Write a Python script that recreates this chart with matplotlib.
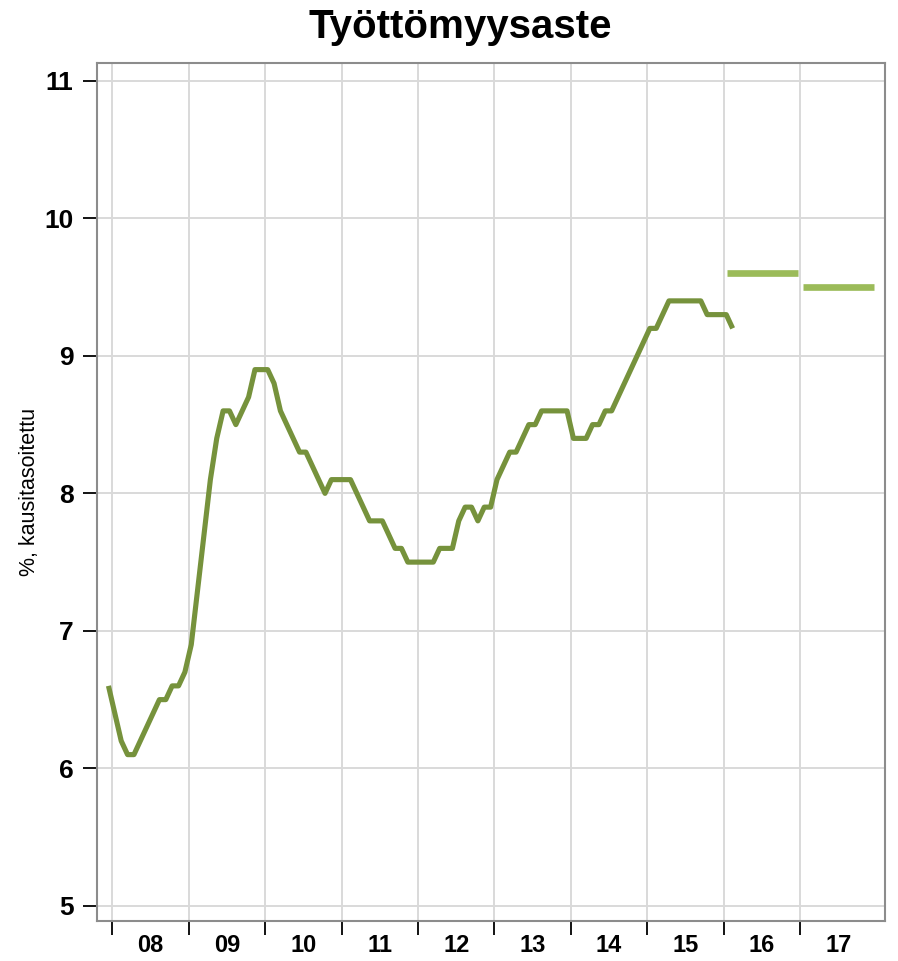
import numpy as np
import matplotlib
matplotlib.use("Agg")
import matplotlib.pyplot as plt

plt.rcParams['font.family'] = ['Liberation Sans', 'DejaVu Sans']

# ─────────────────────────────────────────
# DATA
# monthly unemployment rate, Jan 2008 -> Mar 2016
# ─────────────────────────────────────────
rate = [
    6.6, 6.4, 6.2, 6.1, 6.1, 6.2, 6.3, 6.4, 6.5, 6.5, 6.6, 6.6,   # 2008
    6.7, 6.9, 7.3, 7.7, 8.1, 8.4, 8.6, 8.6, 8.5, 8.6, 8.7, 8.9,   # 2009
    8.9, 8.9, 8.8, 8.6, 8.5, 8.4, 8.3, 8.3, 8.2, 8.1, 8.0, 8.1,   # 2010
    8.1, 8.1, 8.1, 8.0, 7.9, 7.8, 7.8, 7.8, 7.7, 7.6, 7.6, 7.5,   # 2011
    7.5, 7.5, 7.5, 7.5, 7.6, 7.6, 7.6, 7.8, 7.9, 7.9, 7.8, 7.9,   # 2012
    7.9, 8.1, 8.2, 8.3, 8.3, 8.4, 8.5, 8.5, 8.6, 8.6, 8.6, 8.6,   # 2013
    8.6, 8.4, 8.4, 8.4, 8.5, 8.5, 8.6, 8.6, 8.7, 8.8, 8.9, 9.0,   # 2014
    9.1, 9.2, 9.2, 9.3, 9.4, 9.4, 9.4, 9.4, 9.4, 9.4, 9.3, 9.3,   # 2015
    9.3, 9.3, 9.2,                                               # 2016
]
start_year = 2008

# forecasts (annual averages)
fc_years = [2016, 2017]
fc_values = [9.6, 9.5]

years = list(range(2008, 2018))
year_labels = [f"{y % 100:02d}" for y in years]

line_color = '#76923C'
fc_color = '#9BBB59'

# ─────────────────────────────────────────
# PLOT
# ─────────────────────────────────────────
fig = plt.figure(figsize=(8.98, 9.61), dpi=100)
ax = fig.add_axes([97 / 898, 1 - 921 / 961, (885 - 97) / 898, (921 - 63) / 961])

x = start_year + np.arange(len(rate)) / 12 - 0.05
ax.plot(x, rate, color=line_color, lw=3.7, solid_joinstyle='round',
        solid_capstyle='butt', zorder=3)

for yr, v in zip(fc_years, fc_values):
    ax.plot([yr + 0.04, yr + 0.97], [v, v], color=fc_color, lw=4.8,
            solid_capstyle='butt', zorder=3)

ax.set_xlim(2007.80, 2018.11)
ax.set_ylim(4.89, 11.13)

ax.set_xticks(years)
ax.set_xticklabels([])
ax.set_xticks([y + 0.5 for y in years], minor=True)
ax.set_xticklabels(year_labels, minor=True, fontsize=17, fontweight='bold')
ax.tick_params(axis='x', which='major', direction='out', length=10, width=1.3, color='black')
ax.tick_params(axis='x', which='minor', length=0, pad=9)

ax.set_yticks(range(5, 12))
ax.set_yticklabels([str(v) for v in range(5, 12)], fontsize=19, fontweight='bold')
ax.tick_params(axis='y', direction='out', length=10, width=1.3, color='black', pad=7)

ax.grid(True, which='major', color='#d9d9d9', lw=1.4, zorder=0)
ax.set_axisbelow(True)
for s in ax.spines.values():
    s.set_color('#8c8c8c')
    s.set_linewidth(1.5)

fig.text(460 / 898, 1 - 27 / 961, "Työttömyysaste", ha='center', va='center',
         fontsize=29, fontweight='bold')
fig.text(30 / 898, 0.488, "%, kausitasoitettu", ha='center', va='center',
         rotation=90, fontsize=15.5)

fig.savefig("out.png", dpi=100)
